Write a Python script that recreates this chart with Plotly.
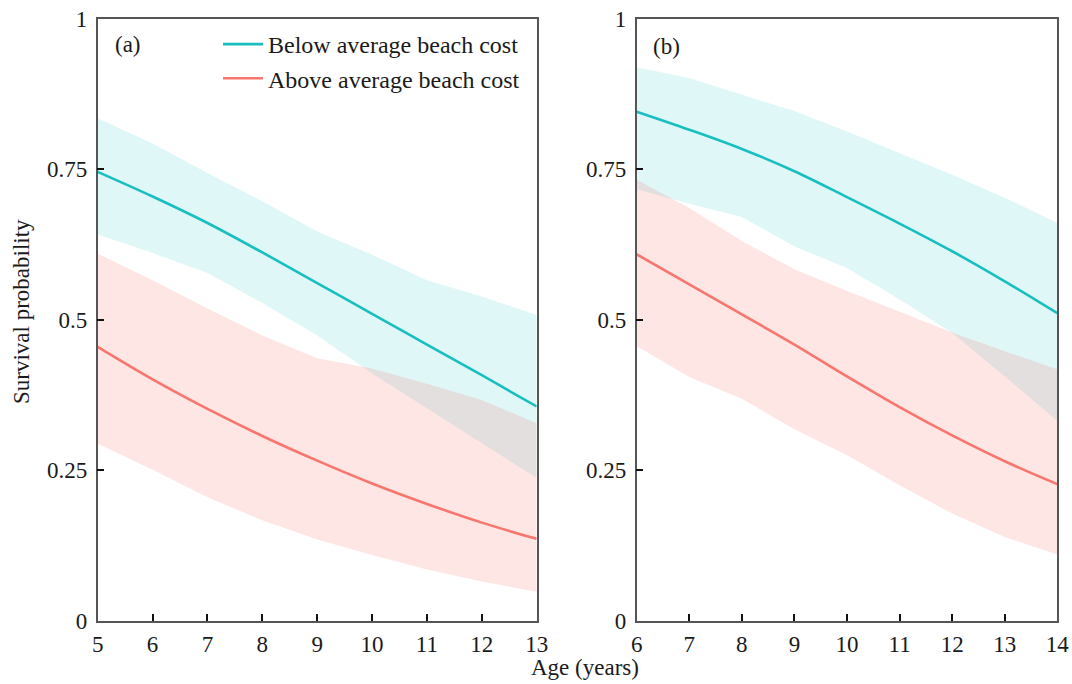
import plotly.graph_objects as go

# ---- data ----
age_a = [5, 6, 7, 8, 9, 10, 11, 12, 13]
below_a_mean = [0.746, 0.705, 0.661, 0.612, 0.561, 0.510, 0.459, 0.408, 0.356]
below_a_hi = [0.835, 0.793, 0.744, 0.697, 0.647, 0.608, 0.566, 0.539, 0.508]
below_a_lo = [0.642, 0.611, 0.578, 0.528, 0.474, 0.411, 0.353, 0.295, 0.237]
above_a_mean = [0.455, 0.401, 0.352, 0.307, 0.266, 0.228, 0.194, 0.163, 0.136]
above_a_hi = [0.610, 0.566, 0.519, 0.474, 0.436, 0.419, 0.394, 0.367, 0.328]
above_a_lo = [0.294, 0.251, 0.205, 0.167, 0.135, 0.109, 0.085, 0.065, 0.048]

age_b = [6, 7, 8, 9, 10, 11, 12, 13, 14]
below_b_mean = [0.846, 0.816, 0.784, 0.747, 0.704, 0.660, 0.614, 0.564, 0.511]
below_b_hi = [0.920, 0.902, 0.874, 0.847, 0.813, 0.777, 0.741, 0.703, 0.661]
below_b_lo = [0.717, 0.693, 0.671, 0.622, 0.586, 0.534, 0.478, 0.406, 0.332]
above_b_mean = [0.609, 0.559, 0.509, 0.459, 0.406, 0.355, 0.308, 0.265, 0.227]
above_b_hi = [0.733, 0.686, 0.631, 0.584, 0.548, 0.514, 0.479, 0.448, 0.418]
above_b_lo = [0.456, 0.405, 0.369, 0.318, 0.275, 0.225, 0.178, 0.139, 0.110]

y_ticks = [0, 0.25, 0.5, 0.75, 1]
y_ticktext = ["0", "0.25", "0.5", "0.75", "1"]
series_names = ["Below average beach cost", "Above average beach cost"]

TEAL = "#19BFC0"
RED = "#F8766D"
TEAL_FILL = "rgba(0,191,196,0.12)"
RED_FILL = "rgba(248,118,109,0.18)"
FONT = "Liberation Serif"
FS = 23
TXT = "#1a1a1a"

fig = go.Figure()

def add_panel(x, b_mean, b_hi, b_lo, a_mean, a_hi, a_lo, xa, ya, show_legend):
    fig.add_trace(go.Scatter(x=x + x[::-1], y=b_hi + b_lo[::-1], fill="toself",
                             fillcolor=TEAL_FILL, line=dict(width=0), mode="lines",
                             hoverinfo="skip", showlegend=False, xaxis=xa, yaxis=ya))
    fig.add_trace(go.Scatter(x=x + x[::-1], y=a_hi + a_lo[::-1], fill="toself",
                             fillcolor=RED_FILL, line=dict(width=0), mode="lines",
                             hoverinfo="skip", showlegend=False, xaxis=xa, yaxis=ya))
    fig.add_trace(go.Scatter(x=x, y=b_mean, mode="lines", name=series_names[0],
                             line=dict(color=TEAL, width=2.6, shape="spline"),
                             showlegend=show_legend, xaxis=xa, yaxis=ya))
    fig.add_trace(go.Scatter(x=x, y=a_mean, mode="lines", name=series_names[1],
                             line=dict(color=RED, width=2.6, shape="spline"),
                             showlegend=show_legend, xaxis=xa, yaxis=ya))

add_panel(age_a, below_a_mean, below_a_hi, below_a_lo,
          above_a_mean, above_a_hi, above_a_lo, "x", "y", True)
add_panel(age_b, below_b_mean, below_b_hi, below_b_lo,
          above_b_mean, above_b_hi, above_b_lo, "x2", "y2", False)

W, H = 1072, 684
ydom = [1 - 620.7 / H, 1 - 19 / H]

axis_common = dict(showline=True, mirror=True, linecolor="#555555", linewidth=1.5,
                   ticks="inside", ticklen=7, tickwidth=2, tickcolor="#111111",
                   showgrid=False, zeroline=False, automargin=False,
                   tickfont=dict(family=FONT, size=FS, color=TXT))

fig.update_layout(
    width=W, height=H,
    margin=dict(l=0, r=0, t=0, b=0, autoexpand=False),
    paper_bgcolor="white", plot_bgcolor="white",
    font=dict(family=FONT, size=FS, color=TXT),
    xaxis=dict(domain=[97.7 / W, 536.7 / W], range=[5, 13], dtick=1, tick0=5,
               anchor="y", ticklabelstandoff=2, **axis_common),
    yaxis=dict(domain=ydom, range=[0, 1], tickvals=y_ticks, ticktext=y_ticktext,
               anchor="x", ticklabelstandoff=4, **axis_common),
    xaxis2=dict(domain=[636.7 / W, 1057.3 / W], range=[6, 14], dtick=1, tick0=6,
                anchor="y2", ticklabelstandoff=2, **axis_common),
    yaxis2=dict(domain=ydom, range=[0, 1], tickvals=y_ticks, ticktext=y_ticktext,
                anchor="x2", ticklabelstandoff=4, **axis_common),
    legend=dict(x=218 / W, y=1 - 22 / H, xanchor="left", yanchor="top",
                bgcolor="rgba(0,0,0,0)", font=dict(family=FONT, size=24, color=TXT),
                itemwidth=40, tracegroupgap=0),
    showlegend=True,
)

fig.add_annotation(text="(a)", x=113 / W, y=1 - 45 / H, xref="paper", yref="paper",
                   xanchor="left", yanchor="middle", showarrow=False,
                   font=dict(family=FONT, size=FS, color=TXT))
fig.add_annotation(text="(b)", x=651 / W, y=1 - 46 / H, xref="paper", yref="paper",
                   xanchor="left", yanchor="middle", showarrow=False,
                   font=dict(family=FONT, size=FS, color=TXT))
fig.add_annotation(text="Age (years)", x=585 / W, y=1 - 667 / H, xref="paper", yref="paper",
                   xanchor="center", yanchor="middle", showarrow=False,
                   font=dict(family=FONT, size=FS, color=TXT))
fig.add_annotation(text="Survival probability", x=21 / W, y=1 - 312 / H, xref="paper",
                   yref="paper", xanchor="center", yanchor="middle", showarrow=False,
                   textangle=-90, font=dict(family=FONT, size=FS, color=TXT))

fig.write_html("out.html")
